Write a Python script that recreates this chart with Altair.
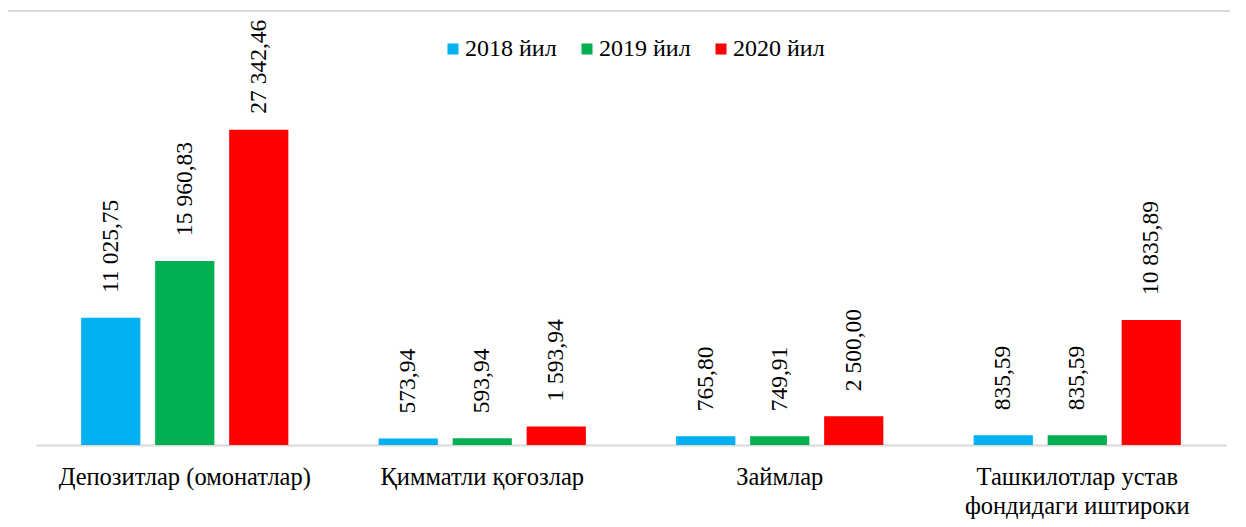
import altair as alt
import pandas as pd

categories = [
    "Депозитлар (омонатлар)",
    "Қимматли қоғозлар",
    "Займлар",
    "Ташкилотлар устав фондидаги иштироки",
]
years = ["2018 йил", "2019 йил", "2020 йил"]
values_2018 = [11025.75, 573.94, 765.80, 835.59]
values_2019 = [15960.83, 593.94, 749.91, 835.59]
values_2020 = [27342.46, 1593.94, 2500.00, 10835.89]
colors = ["#00B0F0", "#00B050", "#FF0000"]


def fmt(v):
    return f"{v:,.2f}".replace(",", " ").replace(".", ",")


rows = []
for year, vals in zip(years, [values_2018, values_2019, values_2020]):
    for cat, v in zip(categories, vals):
        rows.append({"cat": cat, "year": year, "value": v, "label": fmt(v)})
df = pd.DataFrame(rows)

FONT = "Liberation Serif"

x_enc = alt.X(
    "cat:N",
    sort=categories,
    scale=alt.Scale(paddingInner=0, paddingOuter=0),
    axis=alt.Axis(
        title=None,
        labelAngle=0,
        ticks=False,
        domainColor="#d9d9d9",
        domainWidth=2,
        labelFont=FONT,
        labelFontSize=24.5,
        labelColor="#000000",
        labelPadding=20,
        labelLineHeight=29,
        labelLimit=0,
        labelExpr="datum.value == 'Ташкилотлар устав фондидаги иштироки' ? ['Ташкилотлар устав', 'фондидаги иштироки'] : datum.value",
    ),
)
xoff_enc = alt.XOffset(
    "year:N",
    sort=years,
    scale=alt.Scale(paddingInner=0.2, paddingOuter=0.61),
)
y_scale = alt.Scale(domain=[0, 30000], nice=False)
y_enc = alt.Y("value:Q", scale=y_scale, axis=None)
color_enc = alt.Color(
    "year:N",
    sort=years,
    scale=alt.Scale(domain=years, range=colors),
    legend=alt.Legend(
        title=None,
        orient="none",
        direction="horizontal",
        legendX=405,
        legendY=-62,
        symbolType="square",
        symbolSize=121,
        symbolStrokeWidth=0,
        labelFont=FONT,
        labelFontSize=24,
        labelColor="#000000",
        labelOffset=0,
        columnPadding=18,
    ),
)

base = alt.Chart(df)
bars = base.mark_bar().encode(x=x_enc, xOffset=xoff_enc, y=y_enc, color=color_enc)
# labels are kept inside the chart frame (as the spreadsheet does)
texts = (
    base.transform_calculate(labelpos="min(datum.value, 26560)")
    .mark_text(
        angle=270,
        align="left",
        baseline="middle",
        dx=25,
        dy=0,
        font=FONT,
        fontSize=23.5,
        color="#000000",
    )
    .encode(
        x=x_enc,
        xOffset=xoff_enc,
        y=alt.Y("labelpos:Q", scale=y_scale, axis=None),
        text="label:N",
    )
)

frame_v = alt.Chart(df).mark_rule(color="#d9d9d9", strokeWidth=2).encode(
    x=alt.value(-29), y=alt.value(-88), y2=alt.value(600)
)
frame_h = alt.Chart(df).mark_rule(color="#d9d9d9", strokeWidth=2).encode(
    x=alt.value(-29), x2=alt.value(1260), y=alt.value(-88)
)

chart = (
    alt.layer(frame_v, frame_h, bars, texts)
    .properties(
        width=1190,
        height=346,
        autosize="none",
        background="#ffffff",
        padding={"left": 28, "top": 91, "right": 4, "bottom": 90},
    )
    .configure_view(stroke="transparent", strokeWidth=0)
)

chart.save("out.html", embed_options={"renderer": "svg", "actions": False})
